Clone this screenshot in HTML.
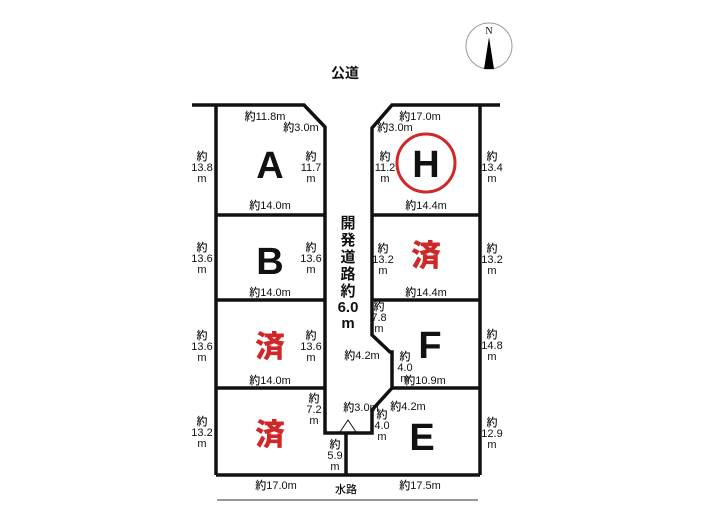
<!DOCTYPE html>
<html><head><meta charset="utf-8"><style>
body{margin:0;background:#fff;width:705px;height:525px;overflow:hidden}
svg text{font-family:"Liberation Sans","Noto Sans CJK JP",sans-serif;fill:#111}
.s{font-size:11px;font-weight:500}
.b{font-size:38px;font-weight:bold}
.r{fill:#d02828;font-size:30px;font-weight:900}
</style></head><body>
<svg width="705" height="525" viewBox="0 0 705 525" xmlns="http://www.w3.org/2000/svg">
<circle cx="489" cy="46" r="23" fill="none" stroke="#999" stroke-width="1"/>
<text x="489" y="34" font-size="10" text-anchor="middle" style="font-family:'Liberation Serif',serif">N</text>
<polygon points="489,37 484,69 494,69" fill="#000"/>
<text x="345" y="78" font-size="14" font-weight="bold" text-anchor="middle">公道</text>
<g fill="none" stroke="#111" stroke-width="3.5" stroke-linejoin="miter">
<polyline points="192,105 304,105 325,127 325,433 346,433"/>
<line x1="216" y1="105" x2="216" y2="475"/>
<polyline points="500,105 392,105 372,128 372,335 390,352 392,352 392,388 372,410 372,433 346,433"/>
<line x1="480" y1="105" x2="480" y2="475"/>
<line x1="216" y1="475" x2="480" y2="475"/>
<line x1="346" y1="433" x2="346" y2="475"/>
<line x1="216" y1="215" x2="325" y2="215"/><line x1="216" y1="300" x2="325" y2="300"/><line x1="216" y1="388" x2="325" y2="388"/>
<line x1="372" y1="215" x2="480" y2="215"/><line x1="372" y1="300" x2="480" y2="300"/><line x1="392" y1="388" x2="480" y2="388"/>
</g>
<line x1="217" y1="500" x2="478" y2="500" stroke="#333" stroke-width="1"/>
<polyline points="340,432 348,420 356,432" fill="none" stroke="#111" stroke-width="1"/>
<text class="b" x="270" y="178" text-anchor="middle">A</text>
<text class="b" x="270" y="274" text-anchor="middle">B</text>
<text class="r" x="270" y="357" text-anchor="middle">済</text>
<text class="r" x="270" y="445" text-anchor="middle">済</text>
<circle cx="426" cy="163" r="29" fill="none" stroke="#d02828" stroke-width="3"/>
<text class="b" x="426" y="177" text-anchor="middle">H</text>
<text class="r" x="426" y="266" text-anchor="middle">済</text>
<text class="b" x="430" y="358" text-anchor="middle">F</text>
<text class="b" x="422" y="450" text-anchor="middle">E</text>
<g class="s" text-anchor="middle">
<text x="265" y="120">約11.8m</text><text x="301" y="131">約3.0m</text>
<text x="420" y="120">約17.0m</text><text x="395" y="131">約3.0m</text>
<text x="270" y="209">約14.0m</text><text x="270" y="296">約14.0m</text><text x="270" y="384">約14.0m</text>
<text x="426" y="209">約14.4m</text><text x="426" y="296">約14.4m</text>
<text x="425" y="384">約10.9m</text>
<text x="276" y="489">約17.0m</text><text x="420" y="489">約17.5m</text>
<text x="346" y="493">水路</text>
<text x="361" y="411">約3.0m</text><text x="408" y="410">約4.2m</text><text x="362" y="359">約4.2m</text>
<text x="202" y="160">約</text><text x="202" y="171">13.8</text><text x="202" y="182">m</text>
<text x="311" y="160">約</text><text x="311" y="171">11.7</text><text x="311" y="182">m</text>
<text x="202" y="251">約</text><text x="202" y="262">13.6</text><text x="202" y="273">m</text>
<text x="311" y="251">約</text><text x="311" y="262">13.6</text><text x="311" y="273">m</text>
<text x="202" y="339">約</text><text x="202" y="350">13.6</text><text x="202" y="361">m</text>
<text x="311" y="339">約</text><text x="311" y="350">13.6</text><text x="311" y="361">m</text>
<text x="202" y="425">約</text><text x="202" y="436">13.2</text><text x="202" y="447">m</text>
<text x="314" y="402">約</text><text x="314" y="413">7.2</text><text x="314" y="424">m</text>
<text x="335" y="448">約</text><text x="335" y="459">5.9</text><text x="335" y="470">m</text>
<text x="385" y="160">約</text><text x="385" y="171">11.2</text><text x="385" y="182">m</text>
<text x="492" y="160">約</text><text x="492" y="171">13.4</text><text x="492" y="182">m</text>
<text x="383" y="252">約</text><text x="383" y="263">13.2</text><text x="383" y="274">m</text>
<text x="492" y="252">約</text><text x="492" y="263">13.2</text><text x="492" y="274">m</text>
<text x="379" y="310">約</text><text x="379" y="321">7.8</text><text x="379" y="332">m</text>
<text x="405" y="360">約</text><text x="405" y="371">4.0</text><text x="405" y="382">m</text>
<text x="492" y="338">約</text><text x="492" y="349">14.8</text><text x="492" y="360">m</text>
<text x="382" y="418">約</text><text x="382" y="429">4.0</text><text x="382" y="440">m</text>
<text x="492" y="426">約</text><text x="492" y="437">12.9</text><text x="492" y="448">m</text>
</g>
<g font-size="15" font-weight="bold" text-anchor="middle">
<text x="348" y="228">開</text><text x="348" y="245">発</text><text x="348" y="262">道</text><text x="348" y="279">路</text><text x="348" y="296">約</text><text x="348" y="312">6.0</text><text x="348" y="328">m</text>
</g>
</svg>
</body></html>
